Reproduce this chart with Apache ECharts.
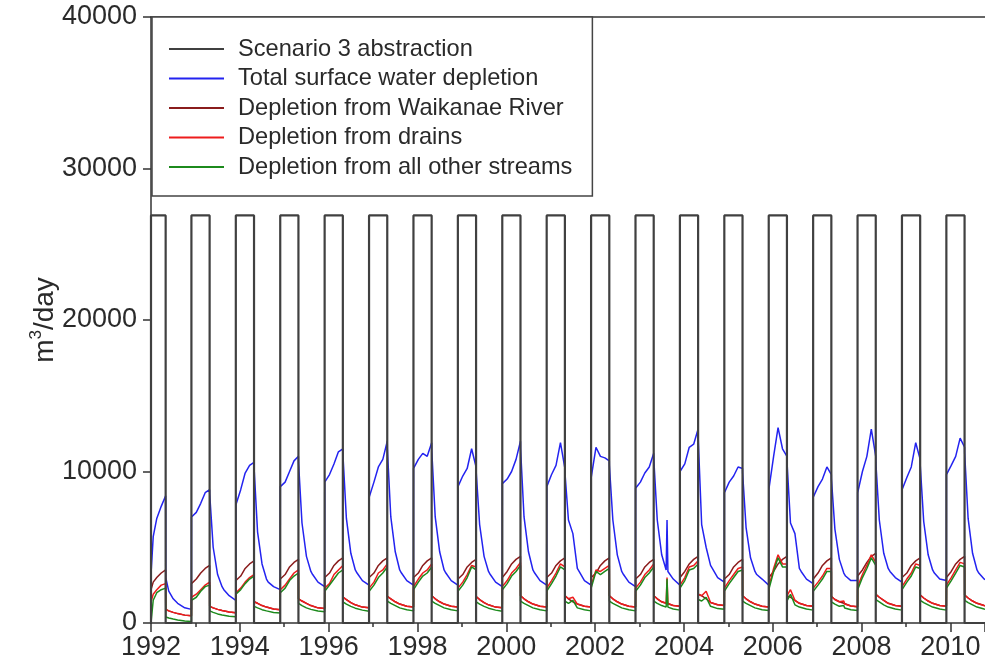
<!DOCTYPE html>
<html>
<head>
<meta charset="utf-8">
<script src="https://cdn.jsdelivr.net/npm/echarts@6/dist/echarts.min.js"></script>
<style>html,body{margin:0;padding:0;background:#fff}#c{width:985px;height:670px}</style>
</head>
<body>
<div id="c"></div>
<script>
// ---- data ----
const seriesNames = ['Scenario 3 abstraction', 'Total surface water depletion', 'Depletion from Waikanae River', 'Depletion from drains', 'Depletion from all other streams'];

// abstraction pulses (decimal years) and rate (m3/day)
const pulseStarts = [1992.0, 1992.91, 1993.91, 1994.91, 1995.91, 1996.91, 1997.91, 1998.91, 1999.91, 2000.91, 2001.91, 2002.91, 2003.91, 2004.91, 2005.91, 2006.91, 2007.91, 2008.91, 2009.91];
const pulseEnds = [1992.33, 1993.32, 1994.32, 1995.32, 1996.32, 1997.32, 1998.32, 1999.32, 2000.32, 2001.32, 2002.32, 2003.32, 2004.32, 2005.32, 2006.32, 2007.32, 2008.32, 2009.32, 2010.32];
const abstractionRate = 26900;

// sample dates of the depletion series: first season, then the same dates within every later season
const firstSeasonDates = [1992.0, 1992.002, 1992.05, 1992.13, 1992.23, 1992.33, 1992.332, 1992.40, 1992.50, 1992.60, 1992.62, 1992.64, 1992.76];
const seasonYears = [1993, 1994, 1995, 1996, 1997, 1998, 1999, 2000, 2001, 2002, 2003, 2004, 2005, 2006, 2007, 2008, 2009, 2010];
const seasonOffsets = [-0.09, -0.088, 0.02, 0.12, 0.22, 0.32, 0.322, 0.40, 0.50, 0.60, 0.62, 0.64, 0.76];
const tailDate = 2010.95;

// one row per season (1992 ... 2010), values in m3/day, plus the last value
const totalRows = [
  [3000, 3300, 5700, 6900, 7700, 8400, 3000, 2100, 1600, 1300, 1250, 1200, 1000],
  [900, 7000, 7300, 7900, 8600, 8800, 8500, 5000, 3200, 2400, 2300, 2200, 1800],
  [1500, 7800, 8800, 9900, 10400, 10600, 10200, 6000, 3900, 2900, 2800, 2700, 2400],
  [2200, 9000, 9300, 10000, 10700, 11000, 10600, 6600, 4400, 3400, 3300, 3200, 2700],
  [2400, 9300, 9800, 10500, 11300, 11500, 11100, 6900, 4600, 3500, 3400, 3300, 2800],
  [2500, 8300, 9300, 10300, 10800, 12000, 11500, 7000, 4700, 3500, 3400, 3300, 2800],
  [2500, 10200, 10800, 11200, 11000, 11900, 11400, 7000, 4700, 3500, 3400, 3300, 2800],
  [2500, 9000, 9700, 10200, 11500, 10300, 10000, 6500, 4400, 3400, 3300, 3200, 2700],
  [2400, 9200, 9500, 10000, 10800, 12000, 11500, 7000, 4700, 3500, 3400, 3300, 2800],
  [2500, 9000, 9800, 10400, 11900, 10200, 9900, 6800, 5900, 3600, 3500, 3400, 2800],
  [2500, 9600, 11600, 11000, 10900, 10700, 10400, 6800, 4500, 3400, 3300, 3200, 2700],
  [2400, 8900, 9300, 9900, 10300, 11200, 10800, 6800, 4500, 3500, 6800, 3400, 2900],
  [2500, 10000, 10500, 11600, 11800, 12800, 12200, 6500, 5000, 3800, 3700, 3600, 3000],
  [2700, 8600, 9300, 9700, 10300, 10200, 9900, 6300, 4300, 3400, 3300, 3200, 2900],
  [2500, 8800, 11000, 12900, 11500, 11000, 10600, 6600, 5900, 3600, 3500, 3400, 2900],
  [2600, 8300, 9000, 9500, 10300, 9800, 9500, 6200, 4200, 3300, 3200, 3100, 2800],
  [2800, 8600, 10000, 11000, 12800, 11000, 10600, 6800, 4600, 3600, 3500, 3400, 3000],
  [2700, 8800, 9600, 10300, 11900, 10800, 10400, 6700, 4500, 3500, 3400, 3300, 2900],
  [2800, 9800, 10400, 11000, 12200, 11600, 11200, 6900, 4600, 3500, 3400, 3300, 2900]
];
const totalLast = 2700;

const waikanaeRows = [
  [2200, 2300, 2700, 3000, 3300, 3500, 900, 800, 700, 620, 600, 590, 520],
  [480, 2600, 2900, 3300, 3600, 3800, 1100, 1000, 900, 820, 800, 790, 720],
  [680, 2800, 3100, 3600, 3900, 4100, 1400, 1300, 1150, 1050, 1030, 1010, 920],
  [880, 2900, 3200, 3700, 4000, 4200, 1600, 1450, 1300, 1150, 1130, 1110, 1000],
  [950, 3000, 3300, 3800, 4100, 4300, 1700, 1550, 1350, 1200, 1180, 1160, 1050],
  [1000, 3000, 3300, 3800, 4100, 4300, 1750, 1600, 1400, 1250, 1230, 1210, 1100],
  [1050, 3000, 3300, 3800, 4100, 4300, 1800, 1600, 1400, 1250, 1230, 1210, 1100],
  [1050, 2900, 3200, 3700, 4000, 4200, 1750, 1550, 1350, 1200, 1180, 1160, 1050],
  [1000, 3000, 3400, 3900, 4200, 4400, 1800, 1600, 1400, 1250, 1230, 1210, 1100],
  [1050, 3000, 3300, 3800, 4100, 4300, 1800, 1600, 1400, 1250, 1230, 1210, 1100],
  [1050, 3000, 3300, 3800, 4100, 4300, 1800, 1600, 1400, 1250, 1230, 1210, 1100],
  [1050, 2900, 3200, 3700, 4000, 4200, 1800, 1600, 1400, 1300, 1300, 1300, 1150],
  [1100, 3000, 3400, 3900, 4200, 4400, 1900, 1800, 1600, 1350, 1330, 1310, 1200],
  [1150, 2900, 3200, 3700, 4000, 4200, 1800, 1600, 1400, 1250, 1230, 1210, 1100],
  [1050, 3000, 3400, 3900, 4200, 4400, 1800, 1700, 1500, 1300, 1280, 1260, 1150],
  [1100, 2900, 3300, 3800, 4100, 4300, 1750, 1550, 1400, 1300, 1250, 1230, 1120],
  [1080, 3100, 3500, 4000, 4400, 4600, 1900, 1700, 1500, 1300, 1280, 1260, 1150],
  [1100, 3000, 3300, 3800, 4100, 4300, 1850, 1650, 1450, 1300, 1280, 1260, 1150],
  [1100, 3000, 3400, 3900, 4200, 4400, 1850, 1650, 1450, 1300, 1280, 1260, 1150]
];
const waikanaeLast = 1080;

const drainsRows = [
  [1400, 1500, 1900, 2200, 2500, 2600, 900, 800, 700, 620, 600, 590, 520],
  [480, 1700, 1900, 2200, 2500, 2700, 1100, 1000, 900, 820, 800, 790, 720],
  [680, 2000, 2300, 2700, 3000, 3200, 1400, 1300, 1150, 1050, 1030, 1010, 920],
  [880, 2200, 2500, 2900, 3300, 3500, 1600, 1450, 1300, 1150, 1130, 1110, 1000],
  [950, 2300, 2600, 3200, 3500, 3800, 1700, 1550, 1350, 1200, 1180, 1160, 1050],
  [1000, 2300, 2700, 3300, 3500, 3900, 1750, 1600, 1400, 1250, 1230, 1210, 1100],
  [1050, 2400, 2900, 3300, 3500, 3900, 1800, 1600, 1400, 1250, 1230, 1210, 1100],
  [1050, 2300, 2700, 3200, 3800, 3700, 1750, 1550, 1350, 1200, 1180, 1160, 1050],
  [1000, 2400, 2800, 3300, 3600, 4000, 1800, 1600, 1400, 1250, 1230, 1210, 1100],
  [1050, 2300, 2800, 3300, 3900, 3700, 1800, 1600, 1700, 1250, 1230, 1210, 1100],
  [1050, 2500, 3500, 3400, 3600, 3800, 1800, 1600, 1400, 1250, 1230, 1210, 1100],
  [1050, 2300, 2700, 3200, 3500, 3900, 1800, 1600, 1400, 1300, 3000, 1300, 1150],
  [1100, 2500, 3000, 3700, 3800, 4100, 1900, 1800, 2100, 1350, 1330, 1310, 1200],
  [1150, 2300, 2800, 3200, 3600, 3700, 1800, 1600, 1400, 1250, 1230, 1210, 1100],
  [1050, 2400, 3600, 4500, 3900, 3900, 1800, 2200, 1500, 1300, 1280, 1260, 1150],
  [1100, 2300, 2700, 3100, 3600, 3600, 1750, 1550, 1400, 1450, 1250, 1230, 1120],
  [1080, 2400, 3200, 3800, 4500, 4000, 1900, 1700, 1500, 1300, 1280, 1260, 1150],
  [1100, 2400, 2900, 3300, 3900, 3800, 1850, 1650, 1450, 1300, 1280, 1260, 1150],
  [1100, 2500, 3000, 3500, 4000, 3900, 1850, 1650, 1450, 1300, 1280, 1260, 1150]
];
const drainsLast = 1080;

const otherRows = [
  [0, 100, 1500, 2000, 2200, 2300, 400, 330, 260, 200, 190, 180, 130],
  [100, 1500, 1700, 2100, 2400, 2500, 800, 700, 600, 530, 520, 510, 450],
  [420, 1900, 2200, 2600, 2900, 3100, 1100, 1000, 880, 800, 790, 780, 700],
  [660, 2000, 2300, 2800, 3100, 3300, 1300, 1150, 1000, 900, 890, 880, 790],
  [740, 2100, 2500, 2900, 3300, 3500, 1400, 1250, 1100, 980, 960, 950, 850],
  [780, 2100, 2500, 3000, 3300, 3700, 1450, 1300, 1150, 1000, 990, 980, 870],
  [800, 2200, 2700, 3100, 3300, 3700, 1450, 1300, 1150, 1000, 990, 980, 870],
  [800, 2100, 2500, 3000, 3700, 3500, 1400, 1250, 1100, 980, 960, 950, 850],
  [780, 2200, 2600, 3100, 3400, 3800, 1450, 1300, 1150, 1000, 990, 980, 870],
  [800, 2100, 2600, 3100, 3700, 3500, 1450, 1300, 1500, 1000, 990, 980, 870],
  [800, 2300, 3400, 3200, 3400, 3600, 1450, 1300, 1150, 1000, 990, 980, 870],
  [800, 2100, 2500, 3000, 3300, 3700, 1450, 1300, 1150, 1050, 2900, 1050, 920],
  [850, 2300, 2800, 3500, 3600, 3900, 1550, 1450, 1700, 1100, 1080, 1060, 950],
  [900, 2100, 2600, 3000, 3400, 3500, 1450, 1300, 1150, 1000, 990, 980, 870],
  [820, 2200, 3400, 4300, 3700, 3700, 1450, 1900, 1200, 1050, 1040, 1030, 920],
  [850, 2100, 2500, 2900, 3400, 3400, 1400, 1250, 1100, 1150, 990, 980, 870],
  [830, 2200, 3000, 3600, 4300, 3800, 1550, 1400, 1200, 1050, 1040, 1030, 920],
  [850, 2200, 2700, 3100, 3700, 3600, 1500, 1350, 1200, 1050, 1040, 1030, 920],
  [850, 2300, 2800, 3300, 3800, 3700, 1500, 1350, 1200, 1050, 1040, 1030, 920]
];
const otherLast = 870;

const xTickYears = [1992, 1994, 1996, 1998, 2000, 2002, 2004, 2006, 2008, 2010];
const yTicks = [0, 10000, 20000, 30000, 40000];

// ---- build ----
const dates = firstSeasonDates.slice();
seasonYears.forEach(y => seasonOffsets.forEach(o => dates.push(Math.round((y + o) * 1000) / 1000)));
dates.push(tailDate);

function pairs(rows, last) {
  const vals = [].concat(...rows, [last]);
  return dates.map((d, i) => [d, vals[i]]);
}
const abstractionData = [];
pulseStarts.forEach((s, i) => {
  abstractionData.push([s, 0], [s, abstractionRate], [pulseEnds[i], abstractionRate], [pulseEnds[i], 0]);
});
abstractionData.push([tailDate, 0]);

const FONT = '"Liberation Sans", Arial, Helvetica, sans-serif';
const TEXT = '#2a2a2a';
const colors = ['#404040', '#2323f0', '#8a1c1c', '#ee1c1c', '#1c8a1c'];
const xMin = 1992, xMax = 2010.78;

function lineSeries(name, data, color, width, z) {
  return {
    name, type: 'line', data, symbol: 'none', showSymbol: false, z,
    lineStyle: { color, width }, itemStyle: { color }, animation: false,
    clip: true
  };
}

const chart = echarts.init(document.getElementById('c'), null, { renderer: 'canvas' });
chart.setOption({
  animation: false,
  textStyle: { fontFamily: FONT },
  grid: { left: 151, right: 0, top: 17, bottom: 47 },
  legend: {
    orient: 'vertical', left: 152, top: 17, z: 10,
    padding: [20, 20, 17, 17],
    icon: 'rect',
    itemWidth: 55, itemHeight: 2, itemGap: 5.5,
    backgroundColor: '#fff', borderColor: '#444', borderWidth: 1.5,
    textStyle: { fontSize: 23.6, color: TEXT, fontFamily: FONT, lineHeight: 23, padding: [0, 0, 0, 9] },
    data: seriesNames
  },
  xAxis: [{
    type: 'value', min: xMin, max: xMax, interval: 2,
    axisLine: { show: true, lineStyle: { color: '#333', width: 1.5 } },
    axisTick: { show: true, length: 9, lineStyle: { color: '#333', width: 1.5 } },
    minorTick: { show: true, splitNumber: 2, length: 4, lineStyle: { color: '#333', width: 1.5 } },
    splitLine: { show: false },
    axisLabel: {
      fontSize: 27, color: TEXT, margin: 11, fontFamily: FONT, showMaxLabel: false,
      formatter: v => (xTickYears.indexOf(v) >= 0 ? String(v) : '')
    }
  }, {
    type: 'value', min: xMin, max: xMax, position: 'top',
    axisLine: { show: true, lineStyle: { color: '#333', width: 1.5 } },
    axisTick: { show: false }, axisLabel: { show: false }, splitLine: { show: false }
  }],
  yAxis: {
    type: 'value', min: 0, max: 40000, interval: 10000,
    axisLine: { show: true, lineStyle: { color: '#333', width: 1.5 } },
    axisTick: { show: true, length: 8, lineStyle: { color: '#333', width: 1.5 } },
    splitLine: { show: false },
    axisLabel: {
      fontSize: 27, color: TEXT, margin: 14, fontFamily: FONT,
      formatter: v => (yTicks.indexOf(v) >= 0 ? String(v) : '')
    },
    name: '{a|m}{s|3}{a|/day}',
    nameLocation: 'middle', nameRotate: 90, nameGap: 89, nameMoveOverlap: false,
    nameTextStyle: {
      color: TEXT, fontFamily: FONT,
      rich: {
        a: { fontSize: 28, color: TEXT, fontFamily: FONT, lineHeight: 34 },
        s: { fontSize: 17, color: TEXT, fontFamily: FONT, verticalAlign: 'top', lineHeight: 34 }
      }
    }
  },
  series: [
    lineSeries(seriesNames[0], abstractionData, colors[0], 2.2, 6),
    lineSeries(seriesNames[1], pairs(totalRows, totalLast), colors[1], 1.5, 2),
    lineSeries(seriesNames[2], pairs(waikanaeRows, waikanaeLast), colors[2], 1.5, 3),
    lineSeries(seriesNames[3], pairs(drainsRows, drainsLast), colors[3], 1.5, 4),
    lineSeries(seriesNames[4], pairs(otherRows, otherLast), colors[4], 1.5, 5)
  ]
});
</script>
</body>
</html>
